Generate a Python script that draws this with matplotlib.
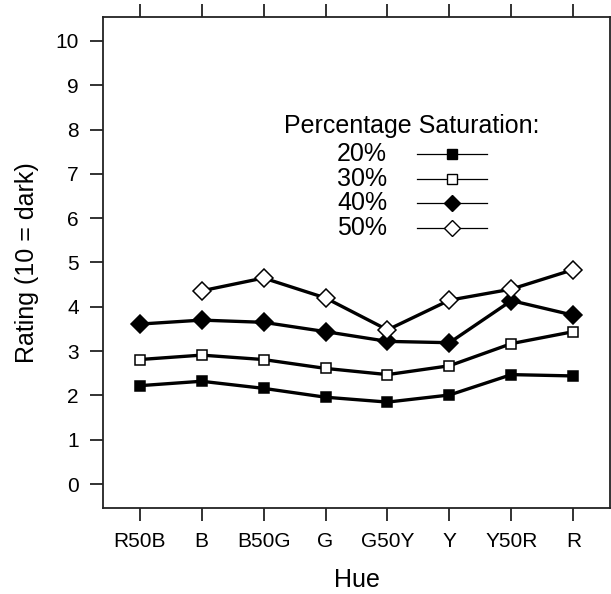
import matplotlib
matplotlib.use('Agg')
import numpy as np
import matplotlib.pyplot as plt

plt.rcParams['font.family'] = ['Liberation Sans', 'DejaVu Sans']

# 色相與各飽和度的評分
hues = ['R50B', 'B', 'B50G', 'G', 'G50Y', 'Y', 'Y50R', 'R']
sat20 = [2.22, 2.32, 2.16, 1.96, 1.85, 2.01, 2.47, 2.44]
sat30 = [2.81, 2.91, 2.81, 2.61, 2.47, 2.67, 3.17, 3.44]
sat40 = [3.61, 3.70, 3.65, 3.44, 3.22, 3.19, 4.14, 3.81]
sat50 = [np.nan, 4.36, 4.65, 4.20, 3.48, 4.15, 4.40, 4.84]
labels = ['20%', '30%', '40%', '50%']
yticks = list(range(0, 11))

series = [sat20, sat30, sat40, sat50]
styles = [('s', 'black'), ('s', 'white'), ('D', 'black'), ('D', 'white')]

W, H = 611, 594
fig = plt.figure(figsize=(W / 100, H / 100), dpi=100)
ax = fig.add_axes([103 / W, (H - 508) / H, (610 - 103) / W, (508 - 17) / H])

x = np.arange(len(hues))
for vals, (m, fc) in zip(series, styles):
    ms = 7.5 if m == 's' else 9
    ax.plot(x, vals, color='black', lw=2.4, marker=m, ms=ms,
            mfc=fc, mec='black', mew=1.1, zorder=3)

ax.set_xlim(-0.59, 7.59)
ax.set_ylim(-0.54, 10.54)
ax.set_xticks(x)
ax.set_xticklabels(hues)
ax.set_yticks(yticks)

for s in ax.spines.values():
    s.set_linewidth(1.3)
    s.set_color('#222222')

ax.tick_params(axis='x', which='both', direction='out', length=9.5, width=1.3,
               color='#222222', top=True, labeltop=False, pad=8, labelsize=15)
ax.tick_params(axis='y', direction='out', length=9.5, width=1.3,
               color='#222222', pad=8, labelsize=15)

ax.set_xlabel('Hue', fontsize=18, labelpad=12)
ax.set_ylabel('Rating (10 = dark)', fontsize=18, labelpad=12)

# 圖例 (手動排列)
def fx(px):
    return (px - 103) / (610 - 103)

def fy(py):
    return (508 - py) / (508 - 17)

ax.text(fx(412), fy(126), 'Percentage Saturation:', transform=ax.transAxes,
        ha='center', va='center', fontsize=18)
rows = [154.3, 179, 203.3, 227.7]
for lab, (m, fc), ry in zip(labels, styles, rows):
    ax.text(fx(387), fy(ry), lab, transform=ax.transAxes,
            ha='right', va='center', fontsize=18)
    ax.plot([fx(417), fx(487)], [fy(ry), fy(ry)], transform=ax.transAxes,
            color='black', lw=0.9)
    ms = 6.5 if m == 's' else 8.5
    ax.plot([fx(452)], [fy(ry)], transform=ax.transAxes, marker=m, ms=ms,
            mfc=fc, mec='black', mew=1.0, color='black')

fig.savefig('out.png', dpi=100)
